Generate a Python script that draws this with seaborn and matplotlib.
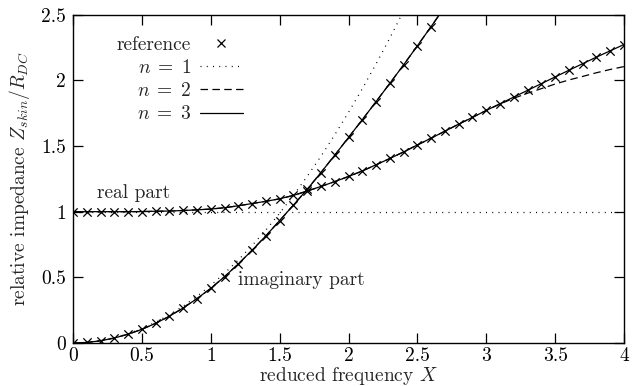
import numpy as np
import pandas as pd
import seaborn as sns
import matplotlib
matplotlib.use("Agg")
import matplotlib.pyplot as plt
from matplotlib.lines import Line2D

# ---- data ----
x_ref = [round(0.1 * i, 1) for i in range(41)]
real_ref = [1.000, 1.000, 1.000, 1.000, 1.000, 1.001, 1.003, 1.005, 1.009, 1.014,
            1.020, 1.030, 1.045, 1.062, 1.079, 1.098, 1.124, 1.157, 1.192, 1.229,
            1.268, 1.310, 1.357, 1.405, 1.455, 1.508, 1.560, 1.613, 1.667, 1.718,
            1.771, 1.822, 1.873, 1.924, 1.975, 2.026, 2.077, 2.127, 2.177, 2.225, 2.273]
x_imag = [round(0.1 * i, 1) for i in range(28)]
imag_ref = [0.000, 0.004, 0.017, 0.038, 0.067, 0.104, 0.150, 0.204, 0.267, 0.338,
            0.416, 0.505, 0.602, 0.706, 0.816, 0.932, 1.050, 1.170, 1.298, 1.430,
            1.565, 1.700, 1.838, 1.977, 2.118, 2.263, 2.410, 2.560]

# n = 1 approximation
x_n1_real = [0.0, 4.0]
real_n1 = [1.0, 1.0]
x_n1_imag = [round(0.1 * i, 1) for i in range(26)]
imag_n1 = [0.000, 0.004, 0.018, 0.040, 0.070, 0.110, 0.158, 0.215, 0.281, 0.356,
           0.439, 0.531, 0.632, 0.742, 0.860, 0.988, 1.124, 1.269, 1.422, 1.585,
           1.756, 1.936, 2.125, 2.322, 2.529, 2.744]

# n = 2 approximation (differs from reference for the real part above X~3)
real_n2 = real_ref[:31] + [1.820, 1.864, 1.902, 1.937, 1.972, 2.003, 2.030, 2.058, 2.083, 2.105]
imag_n2 = imag_ref

# n = 3 approximation (indistinguishable from reference)
real_n3 = real_ref
imag_n3 = imag_ref

x_ticks = [0, 0.5, 1, 1.5, 2, 2.5, 3, 3.5, 4]
x_ticklabels = ["0", "0.5", "1", "1.5", "2", "2.5", "3", "3.5", "4"]
y_ticks = [0, 0.5, 1, 1.5, 2, 2.5]
y_ticklabels = ["0", "0.5", "1", "1.5", "2", "2.5"]

# ---- style ----
FS = 14
sns.set_theme(style="ticks")
plt.rcParams["font.family"] = ["cmr10", "DejaVu Serif"]
plt.rcParams["mathtext.fontset"] = "cm"
plt.rcParams["axes.formatter.use_mathtext"] = True
plt.rcParams["font.size"] = FS

fig = plt.figure(figsize=(6.44, 3.87), dpi=100)
ax = fig.add_axes([73 / 644, 44 / 387, 551 / 644, 328.3 / 387])

dot = (0, (0.8, 4.2))
dash = (0, (6, 3.5))
lw = 0.9

df_ref = pd.DataFrame({"X": x_ref, "re": real_ref, "re2": real_n2, "re3": real_n3})
df_im = pd.DataFrame({"X": x_imag, "im": imag_ref, "im2": imag_n2, "im3": imag_n3})
df_n1r = pd.DataFrame({"X": x_n1_real, "re": real_n1})
df_n1i = pd.DataFrame({"X": x_n1_imag, "im": imag_n1})

# n = 1
sns.lineplot(data=df_n1r, x="X", y="re", ax=ax, color="black", lw=lw, linestyle=dot)
sns.lineplot(data=df_n1i, x="X", y="im", ax=ax, color="black", lw=lw, linestyle=dot)
# n = 2
sns.lineplot(data=df_ref, x="X", y="re2", ax=ax, color="black", lw=lw, linestyle=dash)
sns.lineplot(data=df_im, x="X", y="im2", ax=ax, color="black", lw=lw, linestyle=dash)
# n = 3
sns.lineplot(data=df_ref, x="X", y="re3", ax=ax, color="black", lw=lw, linestyle="-")
sns.lineplot(data=df_im, x="X", y="im3", ax=ax, color="black", lw=lw, linestyle="-")
# reference crosses
sns.scatterplot(data=df_ref, x="X", y="re", ax=ax, marker="x", color="black", s=36, linewidth=0.9, zorder=5)
sns.scatterplot(data=df_im, x="X", y="im", ax=ax, marker="x", color="black", s=36, linewidth=0.9, zorder=5)

ax.set_xlim(0, 4)
ax.set_ylim(0, 2.5)
ax.set_xticks(x_ticks)
ax.set_xticklabels(x_ticklabels)
ax.set_yticks(y_ticks)
ax.set_yticklabels(y_ticklabels)
ax.tick_params(direction="in", length=7, width=0.9, top=True, right=True,
               labelsize=FS, colors="black")
ax.tick_params(axis="x", pad=3)
ax.tick_params(axis="y", pad=5)
for s in ax.spines.values():
    s.set_visible(True)
    s.set_linewidth(1.0)
    s.set_color("black")

ax.set_xlabel("reduced frequency $X$", fontsize=FS, va="baseline")
ax.xaxis.set_label_coords(0.5, -38.0 / 328.3)
ax.set_ylabel("relative impedance $Z_{skin}/R_{DC}$", fontsize=FS, va="center")
ax.yaxis.set_label_coords(-53 / 551, 0.5)

ax.text(0.174, 1.103, "real part", fontsize=FS, va="baseline", ha="left")
ax.text(1.198, 0.441, "imaginary part", fontsize=FS, va="baseline", ha="left")

handles = [
    Line2D([], [], color="black", marker="x", linestyle="none", markersize=6, markeredgewidth=0.9),
    Line2D([], [], color="black", lw=lw, linestyle=dot),
    Line2D([], [], color="black", lw=lw, linestyle=dash),
    Line2D([], [], color="black", lw=lw, linestyle="-"),
]
labels = ["reference", r"$n\;=\;1$", r"$n\;=\;2$", r"$n\;=\;3$"]
leg = ax.legend(handles, labels, loc="upper left", bbox_to_anchor=(0.062, 0.964),
                frameon=False, markerfirst=False, handlelength=2.2, borderpad=0,
                handletextpad=0.45, labelspacing=0.26, fontsize=FS)
for t in leg.get_texts():
    t.set_ha("right")
leg._legend_box.align = "right"

fig.savefig("out.png", dpi=100)
